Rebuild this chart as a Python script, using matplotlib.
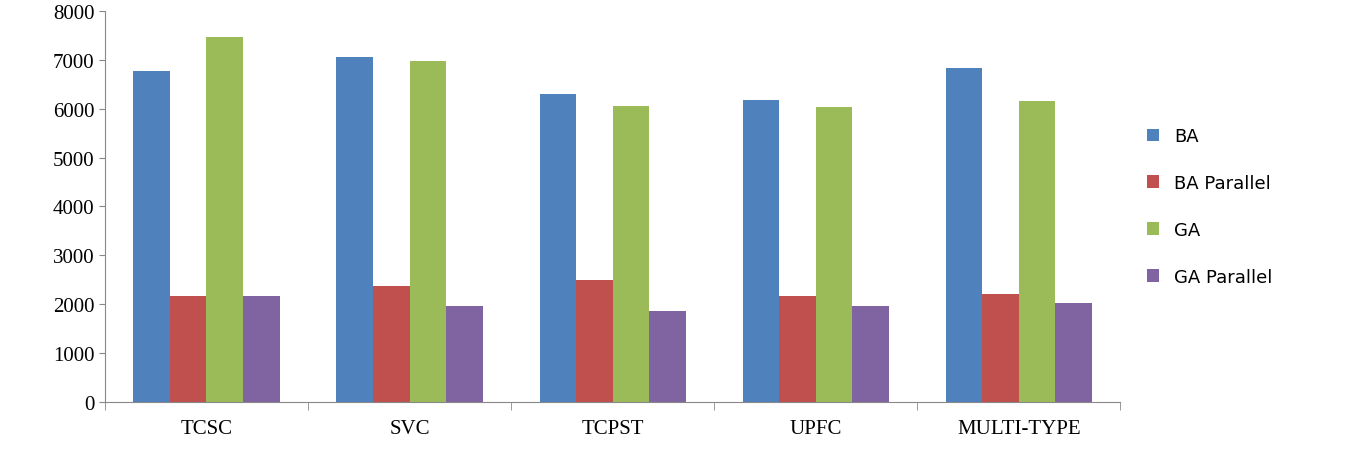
import numpy as np
import matplotlib.pyplot as plt

categories = ["TCSC", "SVC", "TCPST", "UPFC", "MULTI-TYPE"]
ba = [6770, 7050, 6300, 6180, 6830]
ba_parallel = [2170, 2370, 2490, 2170, 2210]
ga = [7460, 6970, 6050, 6030, 6150]
ga_parallel = [2170, 1960, 1860, 1960, 2020]

series = [("BA", ba, "#4F81BD"), ("BA Parallel", ba_parallel, "#C0504D"),
          ("GA", ga, "#9BBB59"), ("GA Parallel", ga_parallel, "#8064A2")]

fig = plt.figure(figsize=(13.45, 4.77), dpi=100)
ax = fig.add_axes([0.078, 0.155, 0.755, 0.82])

x = np.arange(len(categories))
w = 0.18
for i, (name, vals, color) in enumerate(series):
    ax.bar(x + (i - 1.5) * w, vals, w, color=color, label=name)

ax.set_xlim(-0.5, len(categories) - 0.5)
ax.set_ylim(0, 8000)
ax.set_yticks(range(0, 8001, 1000))
ax.set_xticks(x)
ax.set_xticklabels(categories, fontfamily="Liberation Serif", fontsize=15)
for lab in ax.get_yticklabels():
    lab.set_fontfamily("Liberation Serif")
    lab.set_fontsize(15)
for s in ["top", "right"]:
    ax.spines[s].set_visible(False)
ax.spines["left"].set_color("#888888")
ax.spines["bottom"].set_color("#888888")
ax.tick_params(axis="x", length=0, pad=12)
ax.tick_params(axis="y", length=4, color="#888888")
ax.set_xticks(np.arange(len(categories) + 1) - 0.5, minor=True)
ax.tick_params(axis="x", which="minor", length=6, color="#888888")

ax.legend(loc="center left", bbox_to_anchor=(1.01, 0.5), frameon=False,
          fontsize=13, labelspacing=1.6, handlelength=0.7, handleheight=0.7)

plt.savefig("out.png")
